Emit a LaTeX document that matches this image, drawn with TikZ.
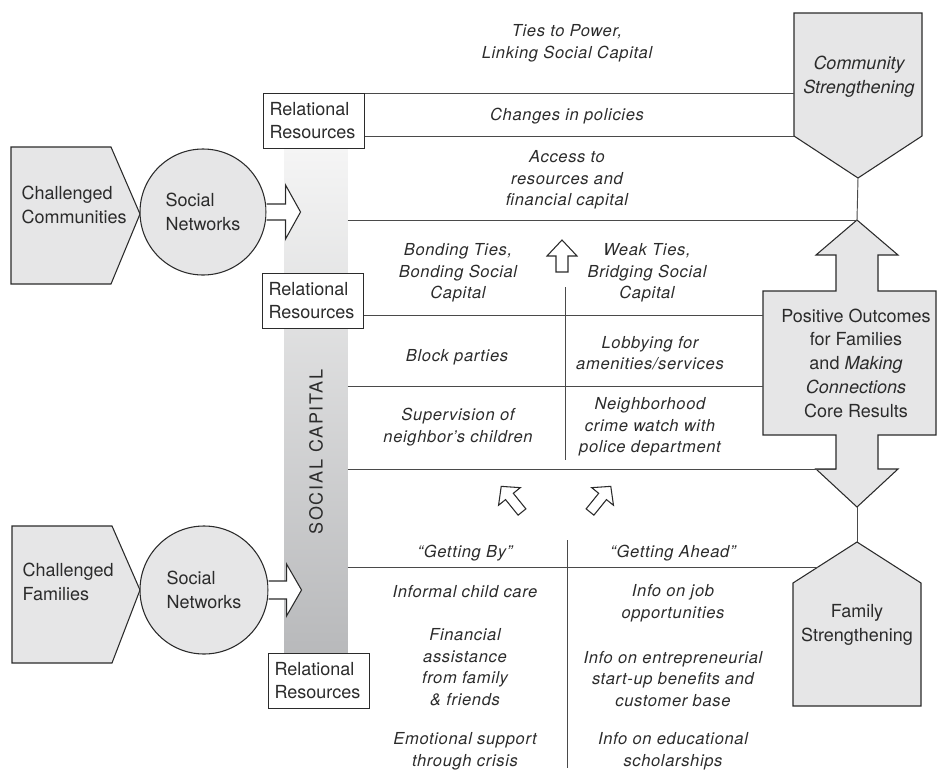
\documentclass[tikz,border=0pt]{standalone}
\usepackage{fontspec}
\setmainfont{TeX Gyre Heros}
\newfontfamily\spacedfont[LetterSpace=4]{TeX Gyre Heros}
\newfontfamily\capsfont[LetterSpace=10]{TeX Gyre Heros}
\usetikzlibrary{positioning}

\definecolor{shapegray}{HTML}{E6E6E7}
\definecolor{bartop}{HTML}{F5F5F5}
\definecolor{barbottom}{HTML}{B8B9BB}
\definecolor{ink}{HTML}{2B2B2B}
\definecolor{rulegray}{HTML}{4A4A4A}

\tikzset{
  shapeline/.style={draw=ink, line width=0.8pt, fill=shapegray},
  hollowline/.style={draw=ink, line width=0.8pt, fill=white},
  rowline/.style={draw=rulegray, line width=0.7pt},
  resbox/.style={draw=ink, line width=0.8pt, fill=white, text=ink, text width=67pt, align=left, inner xsep=4.5pt, minimum height=41pt, font=\fontsize{13.5}{17.5}\selectfont},
  plaintext/.style={text=ink, align=left, font=\fontsize{13.5}{17.8}\selectfont},
  tietext/.style={text=ink, align=center, font=\spacedfont\itshape\fontsize{12.4}{16.2}\selectfont},
  hollowarrow/.pic={\path[hollowline] (0,-5) -- (20,-5) -- (20,-14) -- (33,0) -- (20,14) -- (20,5) -- (0,5) -- cycle;},
}

\begin{document}
\begin{tikzpicture}[x=0.75pt,y=-0.75pt]
  \useasboundingbox (0,0) rectangle (940,772);

  % social capital bar
  \node[inner sep=0pt, minimum width=47.25pt, minimum height=378.75pt, top color=bartop, bottom color=barbottom, anchor=north west] (bar) at (284,148) {};
  \node[rotate=90, text=ink, font=\capsfont\fontsize{13.5}{16}\selectfont] (capital) at (316,452) {SOCIAL CAPITAL};

  % challenged communities
  \path[shapeline] (11,147) -- (111,147) -- (140,214) -- (111,284) -- (11,284) -- cycle;
  \node[plaintext, anchor=west] (communities) at (17,205) {Challenged\\Communities};
  \node[circle, shapeline, minimum size=94.5pt, inner sep=0pt, plaintext] (netTop) at (203,212) {Social\\Networks};
  \path[hollowline] (netTop.east) ++(0,-8) -- ++(19,0) -- ++(0,-19) -- ++(15,27) -- ++(-15,27) -- ++(0,-19) -- ++(-19,0);

  % challenged families
  \path[shapeline] (12,526) -- (112,526) -- (140,590) -- (112,663) -- (12,663) -- cycle;
  \node[plaintext, anchor=west] (families) at (18,582) {Challenged\\Families};
  \node[circle, shapeline, minimum size=96pt, inner sep=0pt, plaintext] (netBot) at (204,590) {Social\\Networks};
  \path[hollowline] (netBot.east) ++(0,-9) -- ++(18,0) -- ++(0,-17) -- ++(15,26) -- ++(-15,26) -- ++(0,-17) -- ++(-18,0);

  % relational resources
  \node[resbox, anchor=north west] (relTop) at (263,93) {Relational\\Resources};
  \node[resbox, anchor=north west] (relMid) at (262,273) {Relational\\Resources};
  \node[resbox, anchor=north west] (relBot) at (268,653) {Relational\\Resources};

  % outcomes on the right
  \path[shapeline] (794,13) coordinate (csTL) -- (922,13) -- (922,136) -- (858,178) coordinate (csTip) -- (794,136) coordinate (csBL) -- cycle;
  \node[plaintext, align=center, font=\itshape\fontsize{13.5}{17.8}\selectfont] (community) at (859,77) {Community\\Strengthening};

  \path[shapeline] (857,220) coordinate (posTip) -- (898,255) -- (878,255) -- (878,291) -- (936,291) -- (936,435) -- (878,435) -- (878,469) -- (898,469) -- (857,507) coordinate (posBot) -- (816,469) -- (836,469) coordinate (shaftL) -- (836,435) -- (763,435) -- (763,291) -- (836,291) -- (836,255) -- (816,255) -- cycle;
  \node[plaintext, align=center] (outcomes) at (856,363) {Positive Outcomes\\for Families\\and \textit{Making}\\\textit{Connections}\\Core Results};

  \path[shapeline] (857,542) coordinate (fsTip) -- (921,583) -- (921,706) -- (793,706) -- (793,583) -- cycle;
  \node[plaintext, align=center] (family) at (857,625) {Family\\Strengthening};

  % rows
  \coordinate (rowA) at (763,315);
  \coordinate (rowB) at (763,386);
  \coordinate (rowD) at (818,567);
  \draw[rowline] (relTop.north east) -- (relTop.north east -| csTL);
  \draw[rowline] (relTop.east |- csBL) -- (csBL);
  \draw[rowline] (csTip) -- (posTip);
  \draw[rowline] (posTip -| bar.east) -- (posTip);
  \draw[rowline] (rowA -| relMid.east) -- (rowA);
  \draw[rowline] (rowB -| bar.east) -- (rowB);
  \draw[rowline] (shaftL -| bar.east) -- (shaftL);
  \draw[rowline] (rowD -| bar.east) -- (rowD);
  \draw[rowline] (posBot) -- (fsTip);
  \draw[rowline] (565,287) -- (565,460);
  \draw[rowline] (567,540) -- (567,768);

  % hollow arrows
  \path[hollowline] (562,240) -- (577,256) -- (568,256) -- (568,272) -- (556,272) -- (556,256) -- (547,256) -- cycle;
  \pic[rotate=129] at (522,512) {hollowarrow};
  \pic[rotate=51] at (590,512) {hollowarrow};

  % examples of ties
  \node[tietext] (ties) at (567,43) {Ties to Power,\\Linking Social Capital};
  \node[tietext] (policies) at (567,116) {Changes in policies};
  \node[tietext] (access) at (567,180) {Access to\\resources and\\financial capital};
  \node[tietext] (bonding) at (458,273) {Bonding Ties,\\Bonding Social\\Capital};
  \node[tietext] (weak) at (647,273) {Weak Ties,\\Bridging Social\\Capital};
  \node[tietext] (block) at (457,357) {Block parties};
  \node[tietext] (lobby) at (650,353) {Lobbying for\\amenities/services};
  \node[tietext] (supervise) at (458,427) {Supervision of\\neighbor’s children};
  \node[tietext] (watch) at (650,427) {Neighborhood\\crime watch with\\police department};
  \node[tietext] (getby) at (465,553) {“Getting By”};
  \node[tietext] (getahead) at (673,553) {“Getting Ahead”};
  \node[tietext] (childcare) at (465,592) {Informal child care};
  \node[tietext] (financial) at (465,667) {Financial\\assistance\\from family\\\& friends};
  \node[tietext] (emotional) at (465,751) {Emotional support\\through crisis};
  \node[tietext] (job) at (673,603) {Info on job\\opportunities};
  \node[tietext] (startup) at (673,679) {Info on entrepreneurial\\start-up benefits and\\customer base};
  \node[tietext] (scholar) at (673,751) {Info on educational\\scholarships};
\end{tikzpicture}
\end{document}
